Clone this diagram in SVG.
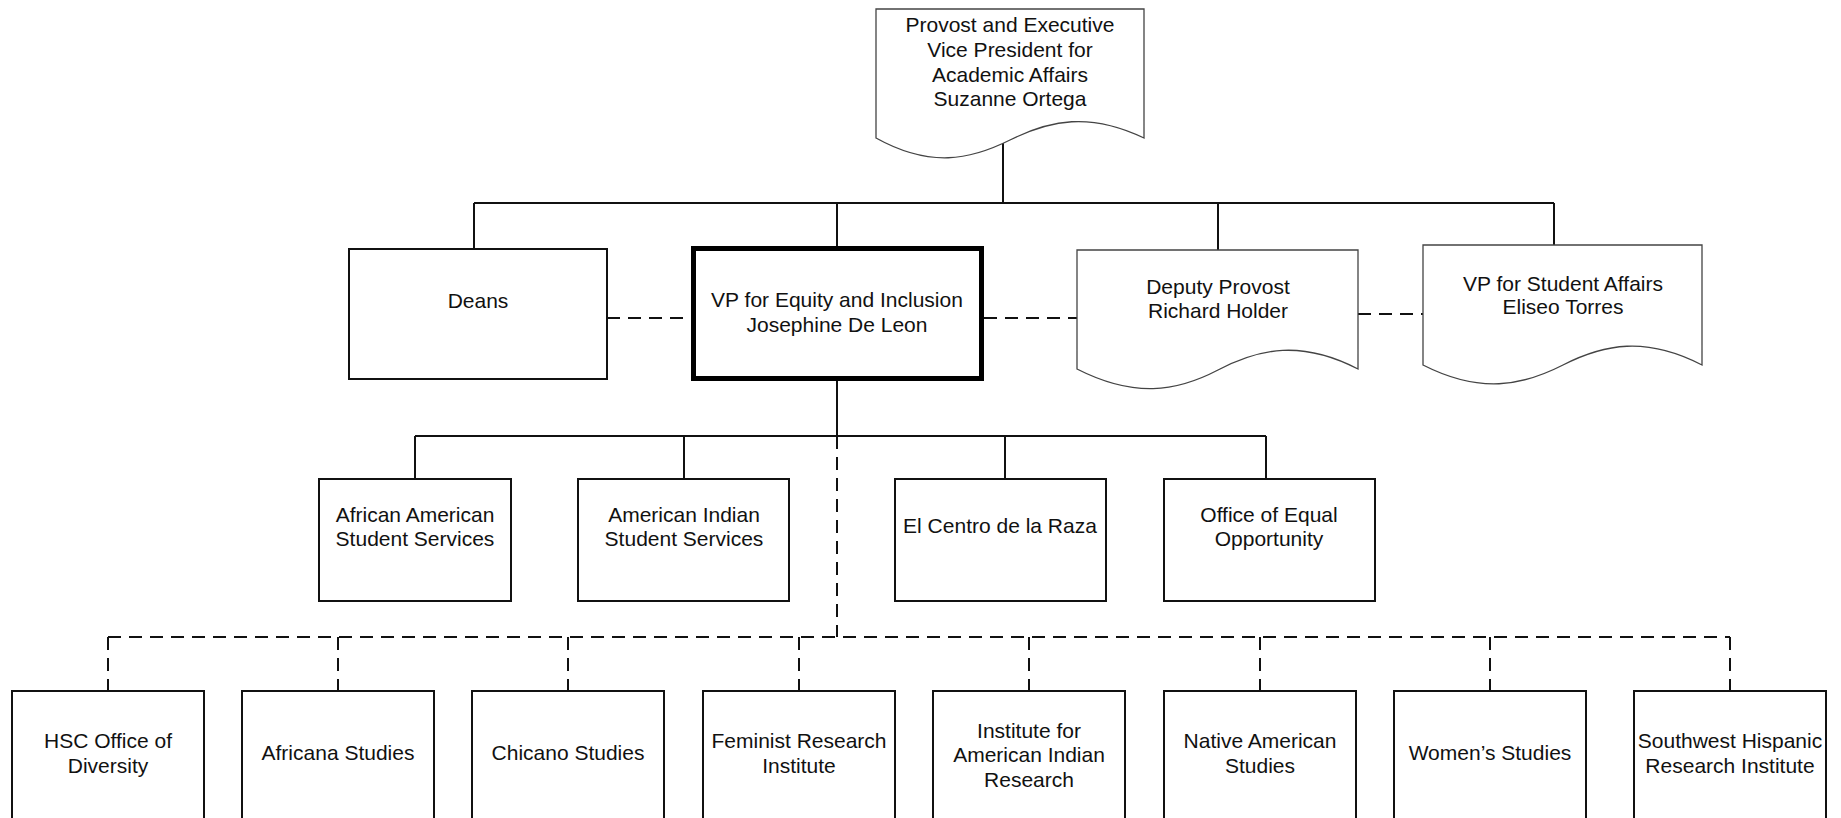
<svg xmlns="http://www.w3.org/2000/svg" width="1841" height="818" viewBox="0 0 1841 818">
<style>
text{font-family:"Liberation Sans",Arial,sans-serif;font-size:21px;fill:#111;text-anchor:middle}
.box{fill:#fff;stroke:#111;stroke-width:2}
.thick{fill:#fff;stroke:#000;stroke-width:5}
.doc{fill:#fff;stroke:#444;stroke-width:1.3}
.ln{fill:none;stroke:#111;stroke-width:2}
.dash{fill:none;stroke:#111;stroke-width:2;stroke-dasharray:13 8}
</style>
<rect width="1841" height="818" fill="#fff"/>
<g id="connectors">
<path class="ln" d="M1003,143 V203 M474,203 H1554 M474,203 V249 M837,203 V246 M1218,203 V250 M1554,203 V245"/>
<path class="dash" d="M607,318 H691 M984,318 H1077 M1358,314 H1423"/>
<path class="ln" d="M837,381 V436 M415,436 H1266 M415,436 V479 M684,436 V479 M1005,436 V479 M1266,436 V479"/>
<path class="dash" d="M837,436 V637 M108,637 H1730"/>
<path class="dash" d="M108,637 V691 M338,637 V691 M568,637 V691 M799,637 V691 M1029,637 V691 M1260,637 V691 M1490,637 V691 M1730,637 V691"/>
</g>
<g id="provost">
<path class="doc" d="M876,9 H1144 V138 C1090,112 1050,120 1010,140 C970,160 930,168 876,138 Z"/>
<text x="1010" y="32">Provost and Executive</text>
<text x="1010" y="57">Vice President for</text>
<text x="1010" y="82">Academic Affairs</text>
<text x="1010" y="106">Suzanne Ortega</text>
</g>
<g id="deans">
<rect class="box" x="349" y="249" width="258" height="130"/>
<text x="478" y="308">Deans</text>
</g>
<g id="vp-equity">
<rect class="thick" x="693.5" y="248.5" width="288" height="130"/>
<text x="837" y="307">VP for Equity and Inclusion</text>
<text x="837" y="332">Josephine De Leon</text>
</g>
<g id="deputy-provost">
<path class="doc" d="M1077,250 H1358 V369 C1302,340 1260,348 1218,370 C1176,392 1134,398 1077,369 Z"/>
<text x="1218" y="294">Deputy Provost</text>
<text x="1218" y="318">Richard Holder</text>
</g>
<g id="vp-student">
<path class="doc" d="M1423,245 H1702 V365 C1646,336 1604,344 1563,365 C1522,386 1480,394 1423,365 Z"/>
<text x="1563" y="291">VP for Student Affairs</text>
<text x="1563" y="314">Eliseo Torres</text>
</g>
<g id="aass">
<rect class="box" x="319" y="479" width="192" height="122"/>
<text x="415" y="522">African American</text>
<text x="415" y="546">Student Services</text>
</g>
<g id="aiss">
<rect class="box" x="578" y="479" width="211" height="122"/>
<text x="684" y="522">American Indian</text>
<text x="684" y="546">Student Services</text>
</g>
<g id="el-centro">
<rect class="box" x="895" y="479" width="211" height="122"/>
<text x="1000" y="533">El Centro de la Raza</text>
</g>
<g id="oeo">
<rect class="box" x="1164" y="479" width="211" height="122"/>
<text x="1269" y="522">Office of Equal</text>
<text x="1269" y="546">Opportunity</text>
</g>
<g id="hsc">
<rect class="box" x="12" y="691" width="192" height="150"/>
<text x="108" y="748">HSC Office of</text>
<text x="108" y="773">Diversity</text>
</g>
<g id="africana">
<rect class="box" x="242" y="691" width="192" height="150"/>
<text x="338" y="760">Africana Studies</text>
</g>
<g id="chicano">
<rect class="box" x="472" y="691" width="192" height="150"/>
<text x="568" y="760">Chicano Studies</text>
</g>
<g id="feminist">
<rect class="box" x="703" y="691" width="192" height="150"/>
<text x="799" y="748">Feminist Research</text>
<text x="799" y="773">Institute</text>
</g>
<g id="iair">
<rect class="box" x="933" y="691" width="192" height="150"/>
<text x="1029" y="738">Institute for</text>
<text x="1029" y="762">American Indian</text>
<text x="1029" y="787">Research</text>
</g>
<g id="native">
<rect class="box" x="1164" y="691" width="192" height="150"/>
<text x="1260" y="748">Native American</text>
<text x="1260" y="773">Studies</text>
</g>
<g id="womens">
<rect class="box" x="1394" y="691" width="192" height="150"/>
<text x="1490" y="760">Women’s Studies</text>
</g>
<g id="southwest">
<rect class="box" x="1634" y="691" width="192" height="150"/>
<text x="1730" y="748">Southwest Hispanic</text>
<text x="1730" y="773">Research Institute</text>
</g>
</svg>
